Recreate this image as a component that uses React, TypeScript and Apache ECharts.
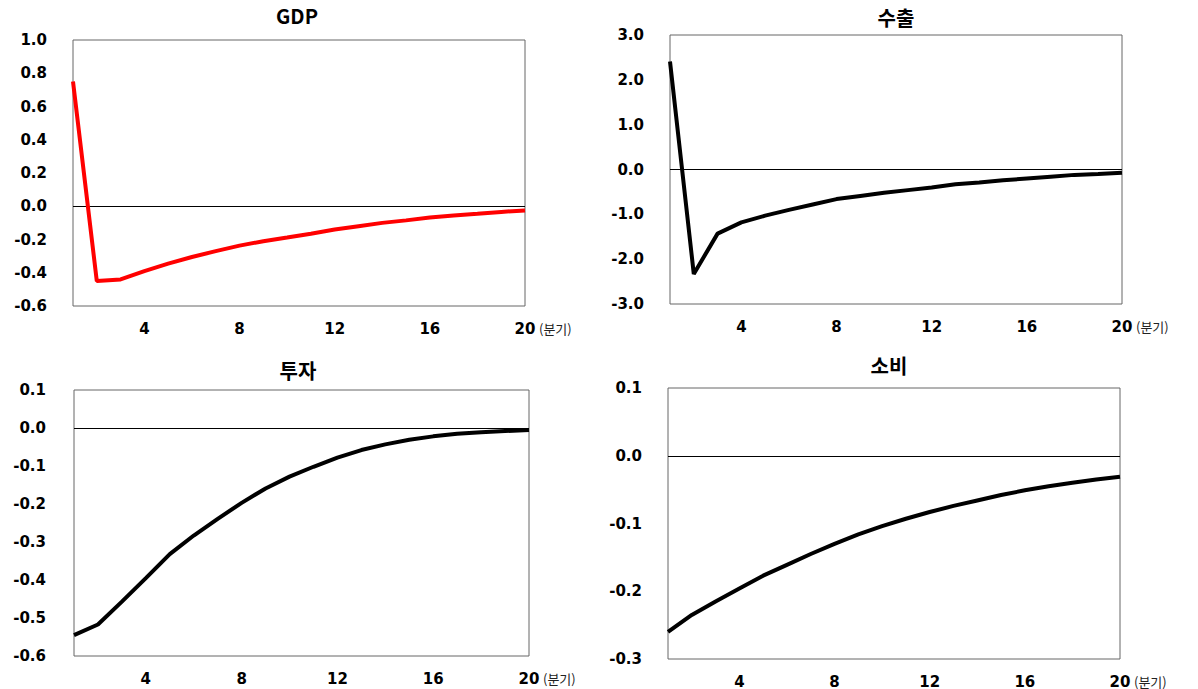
import React, { useEffect, useRef } from "react";
import * as echarts from "echarts";

const periods: string[] = Array.from({ length: 20 }, (_, i) => String(i + 1));

const gdpValues = [0.75, -0.45, -0.44, -0.39, -0.345, -0.305, -0.27, -0.237, -0.21, -0.188, -0.165, -0.14, -0.12, -0.1, -0.085, -0.068, -0.055, -0.045, -0.034, -0.025];
const exportValues = [2.41, -2.33, -1.43, -1.18, -1.03, -0.9, -0.78, -0.66, -0.59, -0.52, -0.46, -0.4, -0.33, -0.29, -0.24, -0.2, -0.16, -0.12, -0.1, -0.07];
const investValues = [-0.545, -0.517, -0.457, -0.395, -0.332, -0.283, -0.239, -0.197, -0.159, -0.128, -0.102, -0.078, -0.058, -0.043, -0.031, -0.022, -0.015, -0.011, -0.008, -0.005];
const consumeValues = [-0.26, -0.235, -0.215, -0.196, -0.177, -0.161, -0.145, -0.13, -0.116, -0.104, -0.093, -0.083, -0.074, -0.066, -0.058, -0.051, -0.045, -0.04, -0.035, -0.031];

const titles = ["GDP", "수출", "투자", "소비"];
const yRanges = [
  { min: -0.6, max: 1.0, interval: 0.2 },
  { min: -3, max: 3, interval: 1 },
  { min: -0.6, max: 0.1, interval: 0.1 },
  { min: -0.3, max: 0.1, interval: 0.1 },
];
const unitLabel = "(분기)";

const grids = [
  { left: 73, top: 40, width: 452, height: 266 },
  { left: 670, top: 35, width: 452, height: 269 },
  { left: 74, top: 390, width: 455, height: 266 },
  { left: 668, top: 388, width: 452, height: 271 },
];
const titlePos = [
  { x: 297, y: 15 },
  { x: 896, y: 17 },
  { x: 298, y: 370 },
  { x: 889, y: 365 },
];
const seriesColors = ["#ff0000", "#000000", "#000000", "#000000"];

export default function App() {
  const ref = useRef<HTMLDivElement>(null);
  useEffect(() => {
    if (!ref.current) return;
    const chart = echarts.init(ref.current, undefined, { renderer: "svg" });
    const data = [gdpValues, exportValues, investValues, consumeValues];
    const fmt = (v: number) => (Math.abs(v) < 1e-9 ? "0.0" : v.toFixed(1));
    const option: any = {
      animation: false,
      backgroundColor: "#ffffff",
      grid: grids.map((g) => ({
        ...g,
        show: true,
        borderColor: "#666666",
        borderWidth: 1,
        backgroundColor: "transparent",
        containLabel: false,
      })),
      xAxis: grids.map((_, i) => ({
        type: "category",
        gridIndex: i,
        data: periods,
        boundaryGap: false,
        axisLine: { show: false },
        axisTick: { show: false },
        splitLine: { show: false },
        axisLabel: {
          interval: (idx: number) => (idx + 1) % 4 === 0,
          margin: 15,
          color: "#000",
          fontFamily: "DejaVu Sans",
          fontWeight: "bold",
          fontSize: 15,
        },
      })),
      yAxis: grids.map((_, i) => ({
        type: "value",
        gridIndex: i,
        min: yRanges[i].min,
        max: yRanges[i].max,
        interval: yRanges[i].interval,
        axisLine: { show: false },
        axisTick: { show: false },
        splitLine: { show: false },
        axisLabel: {
          margin: i === 2 ? 28 : 26,
          color: "#000",
          fontFamily: "DejaVu Sans",
          fontWeight: "bold",
          fontSize: 15,
          formatter: fmt,
        },
      })),
      series: data.map((d, i) => ({
        type: "line",
        xAxisIndex: i,
        yAxisIndex: i,
        data: d,
        showSymbol: false,
        symbol: "none",
        lineStyle: { color: seriesColors[i], width: 4 },
        z: 3,
        markLine: {
          silent: true,
          symbol: ["none", "none"],
          label: { show: false },
          lineStyle: { color: "#000", width: 1, type: "solid" },
          data: [{ yAxis: 0 }],
          z: 2,
        },
      })),
      graphic: [
        ...titles.map((t, i) => ({
          type: "text",
          x: titlePos[i].x,
          y: titlePos[i].y,
          style: {
            text: t,
            fill: "#000",
            font: "bold 20px 'Noto Sans CJK KR', 'DejaVu Sans', sans-serif",
            textAlign: "center",
            textVerticalAlign: "middle",
          },
        })),
        ...grids.map((g) => ({
          type: "text",
          x: g.left + g.width + 14,
          y: g.top + g.height + 22,
          style: {
            text: unitLabel,
            fill: "#222",
            font: "13px 'Noto Sans CJK KR', sans-serif",
            textAlign: "left",
            textVerticalAlign: "middle",
          },
        })),
      ],
    };
    chart.setOption(option);
    return () => chart.dispose();
  }, []);
  return (
    <div
      ref={ref}
      style={{ position: "fixed", left: 0, top: 0, width: 1198, height: 689, background: "#fff" }}
    />
  );
}
